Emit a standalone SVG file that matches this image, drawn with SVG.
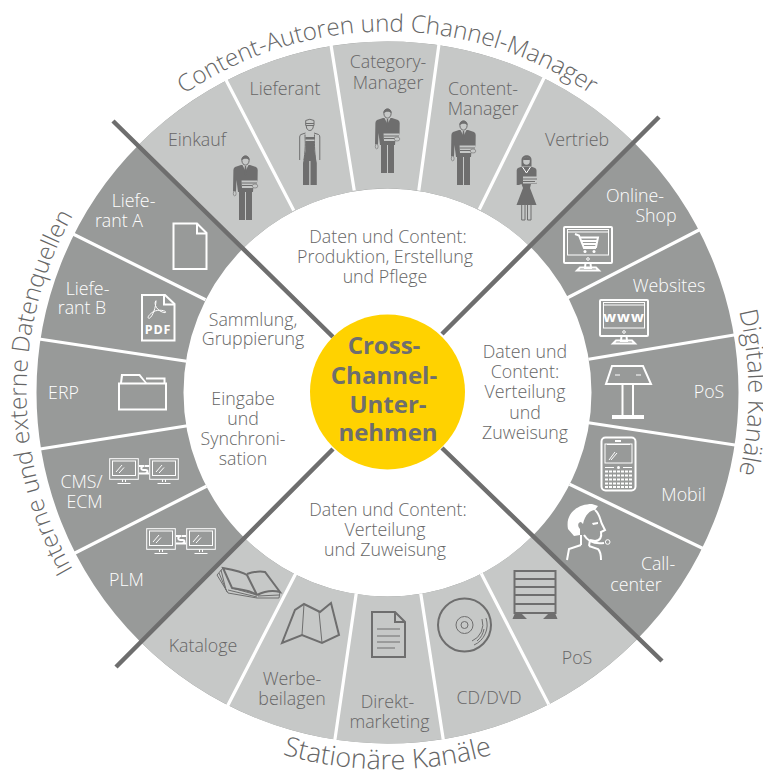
<svg xmlns="http://www.w3.org/2000/svg" width="763" height="774" viewBox="0 0 763 774">
<style>
text{font-family:"Open Sans","Lato","Liberation Sans",sans-serif;font-weight:300;text-anchor:middle}
.g{fill:#666666;font-size:17.800px}
.w{fill:#ffffff;font-size:17.800px}
.t{fill:#666666;font-size:24.200px}
.tr{fill:#666666;font-size:25px}
.tb{fill:#666666;font-size:27px}
.c{fill:#666666;font-size:17.800px}
.b{fill:#6e6e6e;font-size:24px;font-weight:700}
.sep{stroke:#ffffff;stroke-width:3.2;fill:none;stroke-linecap:square}
.diag{stroke:#6e6e6e;stroke-width:4.5;fill:none}
.wl{stroke:#ffffff;stroke-width:2;fill:none}
.wt{stroke:#ffffff;stroke-width:1;fill:none}
.gl{stroke:#6e6e6e;stroke-width:2;fill:none}
.gt{stroke:#6e6e6e;stroke-width:1;fill:none}
.df{fill:#6e6e6e}
.lf{fill:#c6c8c7}
.wf{fill:#ffffff}
</style>
<defs>
<path id="arcTop" d="M26.500 392.500A361 361 0 0 1 748.500 392.500"/>
<path id="arcLeft" d="M387.500 753.500A361 361 0 0 1 387.500 31.500"/>
<path id="arcRight" d="M387.500 31.500A361 361 0 0 1 387.500 753.500"/>
<path id="arcBottom" d="M10.500 392.500A377 377 0 0 0 764.500 392.500"/>
<g id="man">
<path class="df" d="M8 10L2 12Q.5 12.800.4 15L0 36.500L3 36.500L3.500 25L5 37L20 37L20.500 30L24.500 30L24.700 15Q24.700 13 23 12L17 10Z"/>
<path class="lf" d="M9.500 10L12.500 16L15.500 10Z"/>
<path class="df" d="M11.900 11H13.100L13.900 19L12.500 21L11.100 19Z"/>
<ellipse class="lf" cx="12.500" cy="5.500" rx="3.600" ry="4.600" stroke="#6e6e6e"/>
<path class="df" d="M8.500 5.500C7.500 -1 17.500 -1 16.500 5.500C15.500 3 10 3 8.500 5.500Z"/>
<path class="lf" d="M8.500 25.500H24.500L25.500 30.500L23 33H9Z"/>
<path class="gt" d="M8.500 28H24M9 30.500H21"/>
<ellipse class="lf" cx="22" cy="31" rx="2.800" ry="2" stroke="#6e6e6e" stroke-width=".6"/>
<path class="df" d="M6 37H12V65H6ZM13 37H19V65H13Z"/>
<ellipse class="lf" cx="1.700" cy="38.500" rx="1.400" ry="2.400" stroke="#6e6e6e" stroke-width=".6"/>
</g>
<g id="mon">
<rect class="wl" x="1" y="1" width="48" height="36" rx="1"/>
<rect class="wt" x="4.500" y="3.500" width="41" height="25.500" stroke-width="1.200"/>
<path class="wt" d="M5 6H45"/>
<circle class="wt" cx="25" cy="33" r="1.300"/>
<path class="wl" d="M22.500 37L22 42H28L27.500 37M14 44.500H36L33 41.500H17Z" stroke-width="1.600"/>
</g>
<g id="mon2">
<rect class="wt" x=".7" y=".7" width="28.600" height="20.600" stroke-width="1.400"/>
<rect class="wt" x="3.500" y="3" width="23" height="14.500" stroke-width=".8"/>
<path class="wt" d="M7 14L13 7M10 15L15 9.500" stroke-width=".7"/>
<path class="wt" d="M13.500 21.500V24M16.500 21.500V24M8.500 25.500H21.500" stroke-width="1.200"/>
</g>
<g id="duo">
<use href="#mon2"/>
<use href="#mon2" x="40"/>
<path class="wl" d="M30 8H35C32 8 31 12 34.500 12H36.500C39.500 12 39 15.500 35.500 15.500H30M40 8H35.500M35 15.500H40" stroke-width="1.500"/>
</g>
</defs>

<rect width="763" height="774" fill="#ffffff"/>

<g id="ring">
<circle cx="387.500" cy="392.500" r="277.500" fill="none" stroke="#989a99" stroke-width="147"/>
<path class="lf" d="M138 145.600A351 351 0 0 1 634 142.600L530.800 247.300A204 204 0 0 0 242.500 249Z"/>
<path class="lf" d="M140.600 642A351 351 0 0 0 638.300 638.100L533.300 535.200A204 204 0 0 1 244 537.500Z"/>
</g>

<g id="connectors">
<path class="sep" d="M226 80L293 209M331 45L354 189M439 44L419 189M544 78L480 208"/>
<path class="sep" d="M699 230L569 297M734 335L590 359M735 445L590 423M702 548L571 485"/>
<path class="sep" d="M73 234L204 299M39 339L185 361M40 449L186 426M75 553L205 487"/>
<path class="sep" d="M228 705L295 575M335 739L356 595M443 738L421 595M548 703L482 575"/>
<path class="diag" d="M113 121L333 337M659 117L442 334M116 667L333 449M662 661L442 448"/>
</g>

<g id="title-top"><text class="t"><textPath href="#arcTop" startOffset="50%">Content-Autoren und Channel-Manager</textPath></text></g>
<g id="title-left"><text class="t"><textPath href="#arcLeft" startOffset="50%">Interne und externe Datenquellen</textPath></text></g>
<g id="title-right"><text class="tr"><textPath href="#arcRight" startOffset="50%">Digitale Kanäle</textPath></text></g>
<g id="title-bottom"><text class="tb"><textPath href="#arcBottom" startOffset="50%">Stationäre Kanäle</textPath></text></g>

<g id="einkauf"><text class="g" x="197" y="146">Einkauf</text><use href="#man" x="233" y="155"/></g>

<g id="lieferant"><text class="g" x="285" y="95">Lieferant</text>
<g transform="translate(299 119)">
<path class="gt" d="M6.700 6.500V1.500Q10.800 -1 15 1.500V6.500Z"/><path class="gt" d="M6.700 4.500H15"/>
<path class="gt" d="M7.300 7C7.300 13 14.300 13 14.300 7"/>
<path class="gt" d="M6.500 14L2 15.500Q.7 16 .7 18V41M15 14L19.500 15.500Q20.800 16 20.800 18V41"/>
<path class="gt" d="M6 15.500C6 22 7 25 5 41M15.500 15.500C15.500 22 15 25 16.500 41"/>
<path class="df" d="M6.500 18H15.500V32L17.800 44V66H11.500V42H10.200V66H4V44L6.500 32Z"/>
<path class="lf" d="M6.500 20.500H15.500V22H6.500Z"/>
</g></g>

<g id="category-manager"><text class="g" x="388" y="68">Category-</text><text class="g" x="388" y="89">Manager</text><use href="#man" x="375" y="108"/></g>
<g id="content-manager"><text class="g" x="483" y="95">Content-</text><text class="g" x="483" y="115">Manager</text><use href="#man" x="451" y="120"/></g>

<g id="vertrieb"><text class="g" x="577" y="146">Vertrieb</text>
<g transform="translate(516 155)">
<path class="df" d="M5.500 5C5.500 -1.500 16 -1.500 15.500 5L15.500 11H5.500Z"/>
<ellipse class="lf" cx="10.500" cy="6" rx="3.300" ry="3.800"/>
<path class="df" d="M7 5C7 1 14 1 14 5Z"/>
<path class="df" d="M6 11.500L2 13Q.7 13.500.7 15.500V30H3L5.500 29L7 33L.5 50H20.500L14 33L15 29H20.500V15.500Q20.500 13.500 19 13L15 11.500Z"/>
<path class="wt" d="M6.500 12L10.500 18L14.500 12" stroke="#c6c8c7"/>
<path class="lf" d="M7 21.500H21.500L22 26L20 28.500H7Z"/>
<path class="gt" d="M7 24H21M7 26.500H19" stroke-width=".8"/>
<path class="gt" d="M5.700 50V65H9V50M11.500 50V65H15V50"/>
</g></g>

<g id="online-shop"><text class="w" x="635" y="202">Online-</text><text class="w" x="656" y="222">Shop</text>
<use href="#mon" x="563" y="226"/>
<path class="wl" d="M575 234L579 235.500L584 248H596M580 237.500H598L596 247H583M582 241H597M583 244H596" stroke-width="1.100"/>
<circle class="wf" cx="585" cy="251.500" r="1.500"/><circle class="wf" cx="594" cy="251.500" r="1.500"/>
</g>

<g id="websites"><text class="w" x="669" y="292">Websites</text>
<use href="#mon" x="599" y="299"/>
<text x="624" y="322" fill="#ffffff" font-size="15" style="font-weight:700" letter-spacing="1">www</text>
</g>

<g id="pos-digital"><text class="w" x="709" y="398">PoS</text>
<path class="wl" d="M612 366H643L651 384H606Z"/>
<path class="wt" d="M615 375H620M636 375H641"/>
<path class="wl" d="M622.500 384V415M633 384V415"/>
<rect class="wf" x="612" y="415" width="32" height="4"/>
</g>

<g id="mobil"><text class="w" x="683.500" y="501">Mobil</text>
<rect class="wl" x="601.500" y="437.500" width="34" height="53" rx="4"/>
<path class="wl" d="M615 441H621"/>
<rect class="wt" x="605" y="444" width="27" height="19"/>
<path class="wt" d="M607 444.500H630M609 460L615 452M611 460L617 453" stroke-width=".8"/>
<path class="wt" d="M605 467.500H614M623 467.500H632" stroke-width="1.200"/>
<circle class="wf" cx="618.500" cy="467.500" r="1.500"/>
<path class="wl" d="M605 471.500H632M605 475.500H632M605 479.500H632M605 483.500H632M605 487H632" stroke-width="2.600" stroke-dasharray="3 1"/>
</g>

<g id="callcenter"><text class="w" x="658" y="570">Call-</text><text class="w" x="636" y="591">center</text>
<path class="wf" d="M568 529C565 513 578 504 592 504L598 506L595 510C590 510 585 515 583 524L581 522C578 522 577 526 580 529L580 535L574 536Z"/>
<path class="wl" d="M595 510C600 514 600 520 602 524L605 530L601 532C602 537 600 541 595 541L590 540M590 540L589 546M581 535L581 545" stroke-width="1.500"/>
<path class="wl" d="M584 535Q590 545 604 543" stroke-width="1.500"/>
<circle class="wt" cx="607.700" cy="542" r="2.300" stroke-width="1.300"/>
<path class="wf" d="M592 523L598 522V524L593 525Z"/>
<path class="wl" d="M567 560L569 549L581 545M589 546L598 549Q601 552 601 560" stroke-width="1.800"/>
</g>

<g id="pos-stationaer"><text class="g" x="577" y="664">PoS</text>
<rect class="gl" x="514.500" y="571" width="41" height="42"/>
<path class="gl" d="M514 579H556M514 587H556M514 595H556M514 604H556" stroke-width="2.400"/>
<path class="df" d="M515 613H521L527 619H512.500ZM549 613H555L557.500 619H543Z"/>
</g>

<g id="cd-dvd"><text class="g" x="489" y="704">CD/DVD</text>
<circle class="gl" cx="464.500" cy="625" r="26.500"/>
<circle class="gt" cx="464.500" cy="625" r="8.500"/>
<circle class="gt" cx="464.500" cy="625" r="3.500"/>
<path class="gt" d="M482 619A18 18 0 0 1 472 641M486 618A22 22 0 0 1 474 645M484 629A20 20 0 0 1 477 641"/>
</g>

<g id="direktmarketing"><text class="g" x="387.500" y="708">Direkt-</text><text class="g" x="389.500" y="728">marketing</text>
<path class="gl" d="M372 612H395L405 622V657H372Z"/><path class="gl" d="M395 612V622H405"/>
<path class="gt" d="M377 629H400M377 636H400M377 642H400M377 648H395"/>
</g>

<g id="werbebeilagen"><text class="g" x="292" y="685">Werbe-</text><text class="g" x="292" y="705">beilagen</text>
<path class="gl" d="M282 643L295 610L304 604L320 612L331 603L339 635L322 643L302 635Z"/>
<path class="gt" d="M304 604L302 635M319 612L322 643"/>
</g>

<g id="kataloge"><text class="g" x="203" y="652">Kataloge</text>
<path class="gl" d="M223 568C234 570 243 572 247 575L257 595C250 590 241 590 232 588ZM247 574C253 572 260 571 265 572L280 592C272 590 263 592 257 595" stroke-width="1.500"/>
<path class="gt" d="M223 568L217 575L228 593L257 598L279 598L280 592M221 570L226 590M219 573L227 592M232 588L257 595M228 590L257 597M258 596L279 595" stroke-width="1.100"/>
</g>

<g id="plm"><text class="w" x="126.500" y="586">PLM</text><use href="#duo" x="146" y="528"/></g>
<g id="cms-ecm"><text class="w" x="81.500" y="488">CMS/</text><text class="w" x="84.500" y="508">ECM</text><use href="#duo" x="109" y="458"/></g>

<g id="erp"><text class="w" x="63.500" y="399">ERP</text>
<rect class="wl" x="119" y="383.500" width="47" height="26"/>
<path class="wf" d="M121 374H140L147 383H145L139 376H123L122 383H120Z"/>
<path class="wl" d="M146 378.500H164.500V383"/>
</g>

<g id="lieferant-b"><text class="w" x="87.500" y="295">Liefe-</text><text class="w" x="82" y="314">rant B</text>
<path class="wl" d="M142 295H165L174.500 304V340.500H142Z"/><path class="wl" d="M164 295V304.500H174"/>
<path class="wt" d="M156 300.700C153.300 303.300 156.700 311.700 165 312.700C168.300 311.700 160 308.300 153.300 311.700C148.300 315 146.700 318.300 149.300 318.300C152.700 316.700 156 306.700 156 300.700Z" stroke-width="1.200"/>
<text x="158" y="334" fill="#ffffff" font-size="12.500" style="font-weight:700" letter-spacing=".8">PDF</text>
</g>

<g id="lieferant-a"><text class="w" x="133.500" y="207">Liefe-</text><text class="w" x="119" y="227">rant A</text>
<path class="wl" d="M173.500 223.500H197L206.500 233V269H173.500Z"/><path class="wl" d="M197 223.500V233.500H206.500"/>
</g>

<g id="center-top"><text class="c" x="388" y="243">Daten und Content:</text><text class="c" x="385" y="263">Produktion, Erstellung</text><text class="c" x="385" y="283">und Pflege</text></g>
<g id="center-left-a"><text class="c" x="253" y="326">Sammlung,</text><text class="c" x="253" y="345">Gruppierung</text></g>
<g id="center-left-b"><text class="c" x="243" y="405">Eingabe</text><text class="c" x="243" y="425">und</text><text class="c" x="243" y="445">Synchroni-</text><text class="c" x="243" y="465">sation</text></g>
<g id="center-right"><text class="c" x="525" y="358">Daten und</text><text class="c" x="525" y="378">Content:</text><text class="c" x="525" y="398">Verteilung</text><text class="c" x="525" y="419">und</text><text class="c" x="525" y="439">Zuweisung</text></g>
<g id="center-bottom"><text class="c" x="388" y="516">Daten und Content:</text><text class="c" x="385" y="536">Verteilung</text><text class="c" x="385" y="556">und Zuweisung</text></g>

<g id="hub">
<circle cx="387.500" cy="392" r="77.500" fill="#ffd200"/>
<text class="b" x="384" y="354">Cross-</text>
<text class="b" x="384" y="384">Channel-</text>
<text class="b" x="388" y="413">Unter-</text>
<text class="b" x="388" y="441">nehmen</text>
</g>
</svg>
